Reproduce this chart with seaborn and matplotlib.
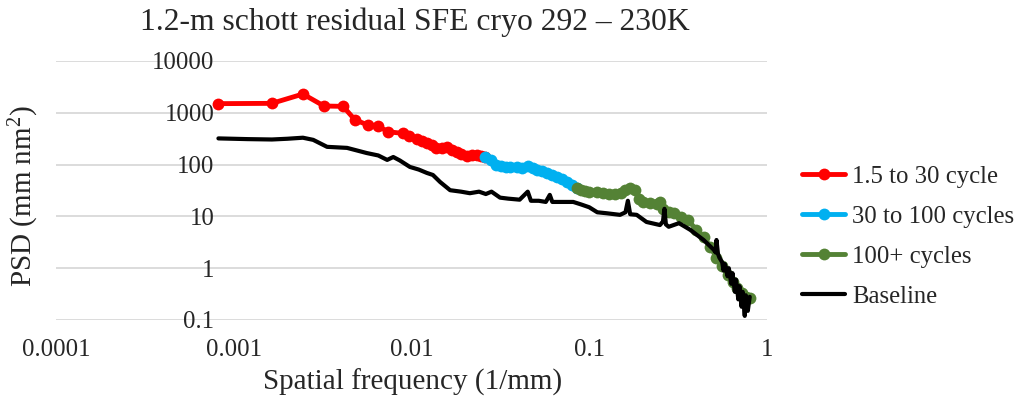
import matplotlib
matplotlib.use('Agg')
import matplotlib.pyplot as plt
import seaborn as sns
from matplotlib.ticker import NullLocator

# 1.5 to 30 cycle
red_f = [0.00082, 0.00164, 0.00245, 0.00322, 0.00412, 0.00481, 0.00569, 0.00646, 0.00738,
         0.00895, 0.0097, 0.0107, 0.0115, 0.0122, 0.013, 0.0138, 0.0148, 0.0158, 0.0168,
         0.018, 0.019, 0.0205, 0.0218, 0.0233, 0.0245, 0.0259]
red_psd = [1500, 1520, 2300, 1350, 1330, 730, 580, 560, 430,
           400, 350, 310, 280, 260, 235, 205, 210, 215, 195,
           175, 160, 145, 150, 150, 145, 140]

# 30 to 100 cycles
blue_f = [0.0259, 0.028, 0.030, 0.032, 0.034, 0.036, 0.039, 0.042, 0.045, 0.048,
          0.051, 0.054, 0.058, 0.062, 0.066, 0.070, 0.075, 0.080, 0.085]
blue_psd = [140, 120, 100, 92, 88, 90, 88, 84, 92, 85,
            78, 74, 70, 64, 58, 52, 46, 40, 36]

# 100+ cycles
green_f = [0.085, 0.09, 0.095, 0.10, 0.11, 0.12, 0.13, 0.14, 0.15, 0.16, 0.17, 0.18,
           0.19, 0.20, 0.22, 0.24, 0.25, 0.26, 0.28, 0.30, 0.33, 0.36, 0.40, 0.44,
           0.48, 0.52, 0.56, 0.60, 0.64, 0.68, 0.72, 0.76, 0.80]
green_psd = [36, 33, 31, 30, 29, 28, 27, 27, 28, 32, 35, 32,
             22, 19, 18, 17, 19, 14, 12, 11.5, 9.8, 8.5, 5.5, 4.0,
             2.6, 1.6, 1.1, 0.75, 0.55, 0.42, 0.33, 0.28, 0.27]

# Baseline
black_f = [0.00082, 0.0012, 0.00164, 0.002, 0.00245, 0.0028, 0.00335, 0.00434, 0.0056,
           0.0065, 0.0073, 0.0079, 0.0086, 0.0098, 0.011, 0.0122, 0.0132, 0.0145,
           0.0165, 0.019, 0.0213, 0.024, 0.0262, 0.0282, 0.0315, 0.035, 0.0406,
           0.0451, 0.047, 0.052, 0.057, 0.060, 0.062, 0.068, 0.075, 0.0813, 0.09,
           0.1, 0.111, 0.125, 0.149, 0.16, 0.165, 0.17, 0.185, 0.21, 0.25, 0.26,
           0.265, 0.27, 0.28, 0.32, 0.37, 0.44, 0.50, 0.515, 0.52, 0.53, 0.54, 0.56,
           0.57, 0.58, 0.60, 0.61, 0.63, 0.64, 0.66, 0.67, 0.69, 0.70, 0.72, 0.73,
           0.75, 0.76, 0.78, 0.80]
black_psd = [320, 310, 305, 315, 330, 300, 220, 210, 167,
             150, 123, 140, 120, 90, 80, 69, 63, 46,
             32, 30, 28, 30, 27, 30, 23, 22, 21,
             30, 20, 20, 19, 26, 19, 19, 19, 19, 17,
             15, 12, 11.5, 10.7, 12, 20, 11, 10.7, 7.8, 6.8, 8,
             14, 7, 6.3, 7.4, 5.5, 3.5, 2.3, 2.0, 3.5, 1.9, 1.6, 1.3,
             0.9, 1.2, 0.7, 1.0, 0.5, 0.8, 0.35, 0.6, 0.25, 0.45, 0.18, 0.35,
             0.12, 0.3, 0.15, 0.28]

x_ticks = [0.0001, 0.001, 0.01, 0.1, 1]
x_labels = ['0.0001', '0.001', '0.01', '0.1', '1']
y_ticks = [0.1, 1, 10, 100, 1000, 10000]
y_labels = ['0.1', '1', '10', '100', '1000', '10000']

sns.set_style('white')
plt.rcParams['font.family'] = ['Liberation Serif', 'DejaVu Serif']
plt.rcParams['mathtext.fontset'] = 'custom'
plt.rcParams['mathtext.rm'] = 'Liberation Serif'
plt.rcParams['mathtext.it'] = 'Liberation Serif:italic'

fig = plt.figure(figsize=(10.18, 4.07), dpi=100)
ax = fig.add_axes([0.055, 0.2138, 0.6984, 0.6364])

sns.lineplot(x=red_f, y=red_psd, color='#FF0000', lw=3.5, marker='o', markersize=8.5,
             markeredgewidth=0, label='1.5 to 30 cycle', ax=ax, zorder=3)
sns.lineplot(x=blue_f, y=blue_psd, color='#00B0F0', lw=7.5, marker='o', markersize=8.5,
             markeredgewidth=0, label='30 to 100 cycles', ax=ax, zorder=3)
sns.lineplot(x=green_f, y=green_psd, color='#548235', lw=7.5, marker='o', markersize=8.5,
             markeredgewidth=0, label='100+ cycles', ax=ax, zorder=3)
sns.lineplot(x=black_f, y=black_psd, color='black', lw=3, label='Baseline', ax=ax, zorder=4)

ax.set_xscale('log')
ax.set_yscale('log')
ax.set_xlim(1e-4, 1)
ax.set_ylim(0.1, 10000)
ax.set_xticks(x_ticks)
ax.set_xticklabels(x_labels)
ax.set_yticks(y_ticks)
ax.set_yticklabels(y_labels)
ax.xaxis.set_minor_locator(NullLocator())
ax.yaxis.set_minor_locator(NullLocator())

ax.set_axisbelow(True)
ax.yaxis.grid(True, color='#D9D9D9', lw=1.3)
ax.xaxis.grid(False)
for s in ax.spines.values():
    s.set_visible(False)
# vertical axis crosses at 0.001 like the Excel chart
ax.spines['left'].set_position(('data', 0.001))
ax.tick_params(axis='both', length=0, labelsize=17.8, pad=14)

ax.set_xlabel('Spatial frequency (1/mm)', fontsize=21)
ax.xaxis.set_label_coords(0.502, -0.19)
ax.set_ylabel('PSD (mm nm$^2$)', fontsize=21)
ax.yaxis.set_label_coords(-0.021, 0.48)

fig.text(0.408, 0.946, '1.2-m schott residual SFE cryo 292 \u2013 230K',
         fontsize=22.8, ha='center', va='center')

ax.legend_.remove()
handles, labels = ax.get_legend_handles_labels()
handles[1].set_linewidth(3.5)
handles[2].set_linewidth(3.5)
fig.legend(handles, labels, loc='upper left', bbox_to_anchor=(0.788, 0.594), frameon=False,
           fontsize=17.8, borderpad=0, borderaxespad=0, handlelength=1.74,
           handletextpad=0.28, labelspacing=0.72)

fig.savefig('out.png', dpi=100)
